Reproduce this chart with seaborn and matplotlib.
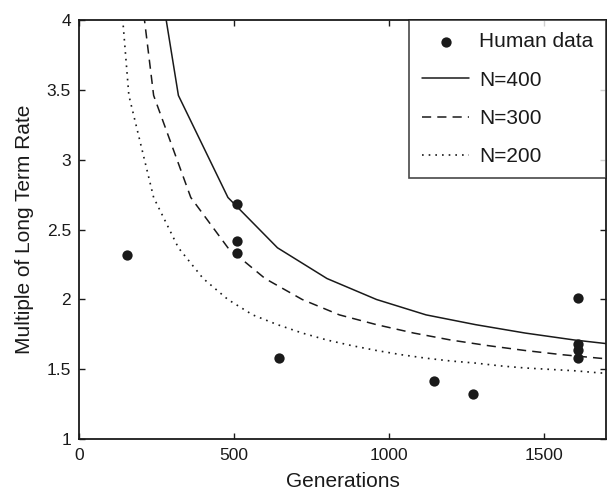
import matplotlib
matplotlib.use("Agg")
import matplotlib.pyplot as plt
import seaborn as sns
import pandas as pd

# human data points (generations, multiple of long term rate)
human_gen = [153, 510, 510, 510, 644, 1145, 1271, 1611, 1611, 1611, 1611]
human_rate = [2.32, 2.68, 2.42, 2.33, 1.58, 1.42, 1.325, 2.01, 1.68, 1.64, 1.58]

# model curves (first point lies above the plot top)
rate_curve = [5.65, 3.46, 2.73, 2.37, 2.15, 2.0, 1.89, 1.82, 1.76, 1.71, 1.67,
              1.635, 1.605, 1.58, 1.56, 1.545, 1.525, 1.51, 1.50, 1.49, 1.475, 1.465]
gen_n400 = [160, 320, 480, 640, 800, 960, 1120, 1280, 1440, 1600, 1760]
gen_n300 = [120, 240, 360, 480, 600, 720, 840, 960, 1080, 1200, 1320, 1440,
            1560, 1680, 1800]
gen_n200 = [80, 160, 240, 320, 400, 480, 560, 640, 720, 800, 880, 960, 1040,
            1120, 1200, 1280, 1360, 1440, 1520, 1600, 1680, 1760]

sns.set_style("white")
plt.rcParams['font.family'] = ['Liberation Sans', 'DejaVu Sans']

fig = plt.figure(figsize=(6.07, 4.93), dpi=100)
ax = fig.add_axes([0.1307, 0.109, 0.867, 0.8505])

df_h = pd.DataFrame({'x': human_gen, 'y': human_rate})
df400 = pd.DataFrame({'x': gen_n400, 'y': rate_curve[:len(gen_n400)]})
df300 = pd.DataFrame({'x': gen_n300, 'y': rate_curve[:len(gen_n300)]})
df200 = pd.DataFrame({'x': gen_n200, 'y': rate_curve[:len(gen_n200)]})

ink = '#1a1a1a'
sns.scatterplot(data=df_h, x='x', y='y', ax=ax, color=ink, s=55,
                edgecolor=ink, linewidth=0, label='Human data', zorder=3)
sns.lineplot(data=df400, x='x', y='y', ax=ax, color=ink, lw=1.1,
             sort=False, estimator=None, label='N=400')
sns.lineplot(data=df300, x='x', y='y', ax=ax, color=ink, lw=1.1,
             sort=False, estimator=None, label='N=300', dashes=False,
             linestyle=(0, (6, 4)))
sns.lineplot(data=df200, x='x', y='y', ax=ax, color=ink, lw=1.2,
             sort=False, estimator=None, label='N=200', dashes=False,
             linestyle=(0, (1, 3)))

ax.set_xlim(0, 1700)
ax.set_ylim(1, 4)
ax.set_xticks([0, 500, 1000, 1500])
ax.set_yticks([1, 1.5, 2, 2.5, 3, 3.5, 4])
ax.set_yticklabels(['1', '1.5', '2', '2.5', '3', '3.5', '4'])
ax.tick_params(direction='in', length=4, width=1, colors=ink,
               labelsize=12.5, top=True, right=True, bottom=True, left=True,
               labelcolor=ink, pad=6)
for sp in ax.spines.values():
    sp.set_color(ink)
    sp.set_linewidth(1.3)

ax.set_xlabel('Generations', fontsize=15, color=ink, labelpad=7)
ax.set_ylabel('Multiple of Long Term Rate', fontsize=15, color=ink, labelpad=9)

leg = ax.legend(loc='upper right', bbox_to_anchor=(1.0, 1.0), borderaxespad=0,
                fontsize=15, frameon=True, fancybox=False, labelspacing=0.92,
                handlelength=2.3, handletextpad=0.45, borderpad=0.6)
leg.get_frame().set_edgecolor(ink)
leg.get_frame().set_linewidth(1.2)
for t in leg.get_texts():
    t.set_color(ink)

fig.savefig('out.png', dpi=100)
